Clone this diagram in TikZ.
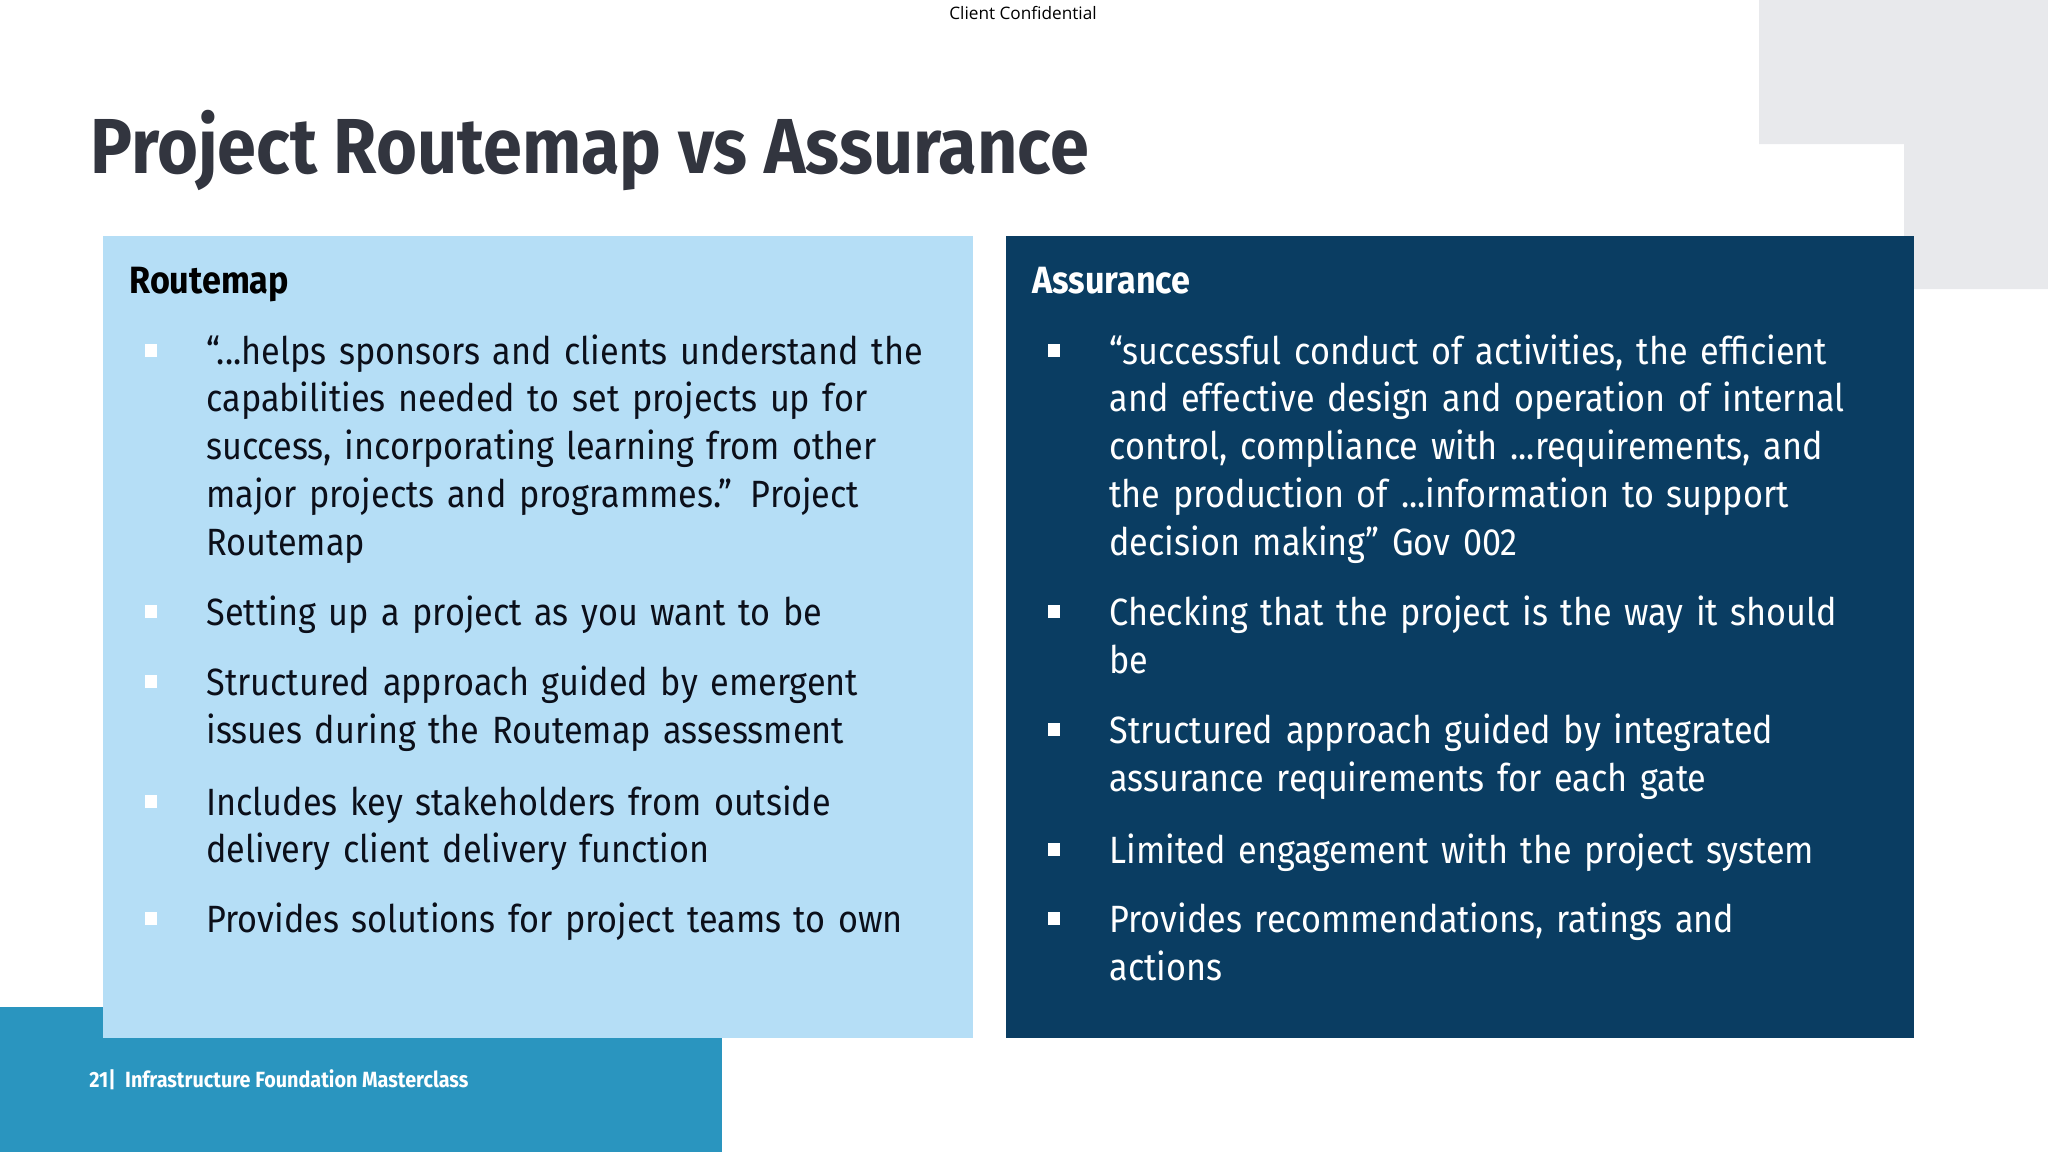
\documentclass[tikz,border=0pt]{standalone}
\usepackage{fontspec}
\setmainfont{Fira Sans}[FakeStretch=0.9]
\newfontfamily\conffont{Open Sans}
\definecolor{c_sky}{HTML}{B5DEF6}
\definecolor{c_navy}{HTML}{0A3D62}
\definecolor{c_teal}{HTML}{2A95BF}
\definecolor{c_grey}{HTML}{E8E9EC}
\definecolor{c_ink}{HTML}{32353F}
\definecolor{c_body}{HTML}{0B0F1A}
\tikzset{
  item_txt/.style={anchor=base west,inner sep=0,text width=400pt,align=left,font=\fontsize{19}{23.9}\selectfont},
  head_txt/.style={anchor=base west,inner sep=0,font=\fontsize{19}{23.9}\selectfont\bfseries},
  bull/.style={fill=white,inner sep=0,minimum width=6pt,minimum height=6.5pt},
}
\begin{document}
\begin{tikzpicture}[x=0.5pt,y=-0.5pt]

\useasboundingbox (0,0) rectangle (2048,1152) ;

\fill[c_grey] (1759,0) -| (2048,289) -| (1904,144) -| cycle ;
\fill[c_teal] (0,1007) -| (722,1152) -| cycle ;
\fill[c_sky] (103,236) rectangle (973,1038) ;
\fill[c_navy] (1006,236) rectangle (1914,1038) ;

\node[anchor=base,inner sep=0,font=\conffont\fontsize{8.6}{10}\selectfont] (txt_conf) at (1023,19) {Client Confidential} ;
\node[anchor=base west,inner sep=0,text=c_ink,font=\fontsize{39}{47}\selectfont\bfseries] (txt_title) at (90,173) {Project Routemap vs Assurance} ;

\node[head_txt] (head_left) at (129,293) {Routemap} ;
\node[head_txt,text=white] (head_right) at (1032,293) {Assurance} ;

\node[item_txt,text=c_body] (left_a) at (206,364) {“...helps sponsors and clients understand the\\capabilities needed to set projects up for\\success, incorporating learning from other\\major projects and programmes.” Project\\Routemap} ;
\node[item_txt,text=c_body] (left_b) at (206,625.6) {Setting up a project as you want to be} ;
\node[item_txt,text=c_body] (left_c) at (206,695.5) {Structured approach guided by emergent\\issues during the Routemap assessment} ;
\node[item_txt,text=c_body] (left_d) at (206,815) {Includes key stakeholders from outside\\delivery client delivery function} ;
\node[item_txt,text=c_body] (left_e) at (206,932.6) {Provides solutions for project teams to own} ;

\node[item_txt,text=white] (right_a) at (1109,364) {“successful conduct of activities, the efficient\\and effective design and operation of internal\\control, compliance with ...requirements, and\\the production of ...information to support\\decision making” Gov 002} ;
\node[item_txt,text=white] (right_b) at (1109,625.6) {Checking that the project is the way it should\\be} ;
\node[item_txt,text=white] (right_c) at (1109,743.5) {Structured approach guided by integrated\\assurance requirements for each gate} ;
\node[item_txt,text=white] (right_d) at (1109,863) {Limited engagement with the project system} ;
\node[item_txt,text=white] (right_e) at (1109,932.6) {Provides recommendations, ratings and\\actions} ;

\foreach \n/\y in {a/350,b/611.6,c/681.5,d/801,e/918.6}
  \node[bull] (bull_left_\n) at (151,\y) {} ;
\foreach \n/\y in {a/350,b/611.6,c/729.5,d/849,e/918.6}
  \node[bull] (bull_right_\n) at (1054,\y) {} ;

\node[anchor=base west,inner sep=0,text=white,font=\fontsize{11}{13}\selectfont\bfseries] (txt_foot) at (89,1087) {21|\ \ Infrastructure Foundation Masterclass} ;

\end{tikzpicture}
\end{document}
